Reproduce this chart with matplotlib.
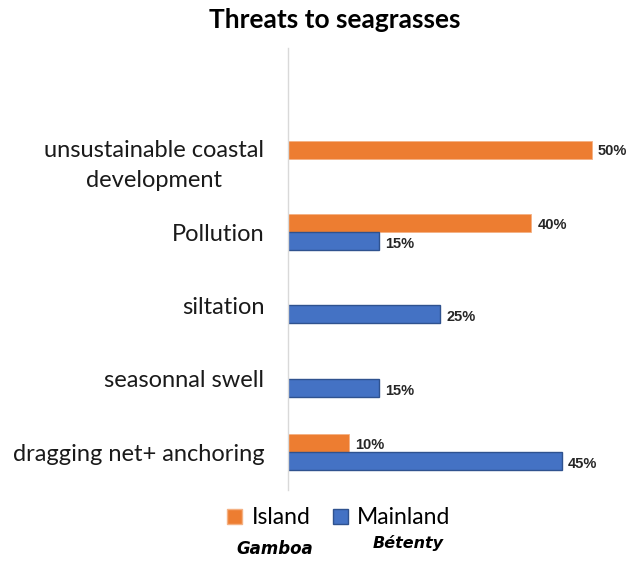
import numpy as np
import matplotlib.pyplot as plt
from matplotlib.patches import Patch

categories = [
    "unsustainable coastal\ndevelopment",
    "Pollution",
    "siltation",
    "seasonnal swell",
    "dragging net+ anchoring",
]
island = [50, 40, None, None, 10]
mainland = [None, 15, 25, 15, 45]

ORANGE = "#ED7D31"
BLUE = "#4472C4"
BLUE_EDGE = "#2F528F"
LABEL_FONT = "Lato"

fig = plt.figure(figsize=(6.3, 5.61), dpi=100)
ax = fig.add_axes([288 / 630, 1 - 490 / 561, 342 / 630, 442 / 561])

y = np.arange(len(categories))
h = 0.245

for i, (isl, mai) in enumerate(zip(island, mainland)):
    if isl is not None:
        ax.barh(y[i] - h / 2, isl, height=h, color=ORANGE, edgecolor="#F4B183", linewidth=0.6)
        ax.text(isl + 1.0, y[i] - h / 2 + 0.02, f"{isl}%", va="center", ha="left",
                fontsize=10.5, fontweight="bold", family="Liberation Sans", color="#262626")
    if mai is not None:
        ax.barh(y[i] + h / 2, mai, height=h, color=BLUE, edgecolor=BLUE_EDGE, linewidth=1.0)
        ax.text(mai + 1.0, y[i] + h / 2 + 0.04, f"{mai}%", va="center", ha="left",
                fontsize=10.5, fontweight="bold", family="Liberation Sans", color="#262626")

ax.set_xlim(0, 342 / 6.08)
ax.set_ylim(4.517, -1.51)
ax.set_yticks(y)
ax.set_yticklabels(categories, fontsize=17, family=LABEL_FONT, multialignment="center",
                   linespacing=1.55, color="#1a1a1a")
ax.tick_params(axis="y", length=0, pad=17)
ax.set_xticks([])
for side in ("top", "right", "bottom"):
    ax.spines[side].set_visible(False)
ax.spines["left"].set_color("#D9D9D9")
ax.spines["left"].set_linewidth(1.0)

fig.text(335 / 630, 1 - 20 / 561, "Threats to seagrasses", ha="center", va="center",
         fontsize=19, fontweight="bold", family=LABEL_FONT)

handles = [
    Patch(facecolor=ORANGE, edgecolor="#F4B183", label="Island"),
    Patch(facecolor=BLUE, edgecolor=BLUE_EDGE, label="Mainland"),
]
fig.legend(handles=handles, loc="center", bbox_to_anchor=(339 / 630, 1 - 518 / 561),
           ncol=2, frameon=False, prop={"family": LABEL_FONT, "size": 16.5},
           handlelength=0.65, handleheight=0.65, handletextpad=0.4, columnspacing=1.0)

fig.text(275 / 630, 1 - 549 / 561, "Gamboa", ha="center", va="center", fontsize=12,
         fontweight="bold", fontstyle="italic", family="DejaVu Sans")
fig.text(408 / 630, 1 - 543 / 561, "Bétenty", ha="center", va="center", fontsize=11.5,
         fontweight="bold", fontstyle="italic", family="DejaVu Sans")

fig.savefig("out.png", dpi=100, facecolor="white")
